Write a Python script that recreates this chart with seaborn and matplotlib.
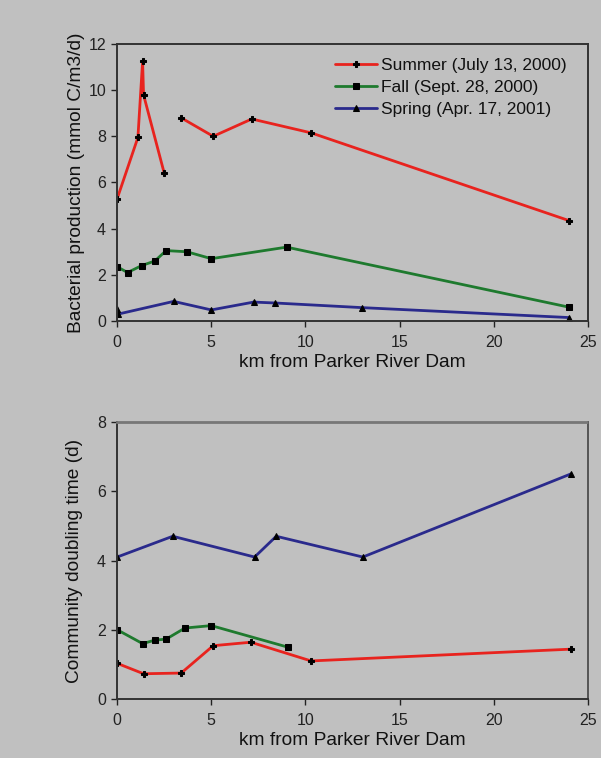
import matplotlib
matplotlib.use("Agg")
import matplotlib.pyplot as plt
import seaborn as sns
import pandas as pd

sns.set_theme(style="ticks")
plt.rcParams['font.family'] = ['Liberation Sans', 'DejaVu Sans']

# ---- Top panel: bacterial production ----
summer_km_a = [0, 1.1, 1.35, 1.4, 2.5]
summer_bp_a = [5.3, 7.95, 11.25, 9.8, 6.4]
summer_km_b = [3.4, 5.1, 7.15, 10.3, 24.0]
summer_bp_b = [8.8, 8.0, 8.75, 8.15, 4.35]

fall_km = [0, 0.55, 1.3, 2.0, 2.6, 3.7, 5.0, 9.0, 24.0]
fall_bp = [2.35, 2.1, 2.4, 2.6, 3.05, 3.0, 2.7, 3.2, 0.6]

spring_km = [0, 0.05, 3.0, 5.0, 7.25, 8.4, 13.0, 24.0]
spring_bp = [0.5, 0.3, 0.85, 0.48, 0.82, 0.78, 0.58, 0.15]

# ---- Bottom panel: community doubling time ----
spring_km2 = [0, 2.95, 7.3, 8.45, 13.05, 24.1]
spring_dt = [4.1, 4.7, 4.1, 4.7, 4.1, 6.5]
fall_km2 = [0, 1.35, 2.0, 2.6, 3.6, 5.0, 9.05]
fall_dt = [2.0, 1.6, 1.7, 1.73, 2.05, 2.12, 1.5]
summer_km2 = [0, 1.4, 3.4, 5.1, 7.1, 10.3, 24.1]
summer_dt = [1.03, 0.73, 0.75, 1.54, 1.64, 1.1, 1.44]

labels = ["Summer (July 13, 2000)", "Fall (Sept. 28, 2000)", "Spring (Apr. 17, 2001)"]
colors = {"summer": "#e8231e", "fall": "#1e7a2e", "spring": "#2a2a8c"}
markers = {"summer": "P", "fall": "s", "spring": "^"}
msize = {"summer": 4, "fall": 4.5, "spring": 4}

BG = "#c0c0c0"
fig = plt.figure(figsize=(6.01, 7.58), dpi=100, facecolor=BG)
ax1 = fig.add_axes([0.195, 0.5765, 0.783, 0.3655])
ax2 = fig.add_axes([0.195, 0.0778, 0.783, 0.3655])


def draw(ax, km, val, key, label=None):
    df = pd.DataFrame({"km": km, "v": val})
    sns.lineplot(data=df, x="km", y="v", ax=ax, sort=False, estimator=None,
                 color=colors[key], lw=2, marker=markers[key], ms=msize[key],
                 mfc="black", mec="black", label=label)


draw(ax1, summer_km_a, summer_bp_a, "summer", labels[0])
draw(ax1, summer_km_b, summer_bp_b, "summer")
draw(ax1, fall_km, fall_bp, "fall", labels[1])
draw(ax1, spring_km, spring_bp, "spring", labels[2])

draw(ax2, spring_km2, spring_dt, "spring")
draw(ax2, fall_km2, fall_dt, "fall")
draw(ax2, summer_km2, summer_dt, "summer")

for ax in (ax1, ax2):
    ax.set_facecolor(BG)
    ax.set_xlim(0, 25)
    ax.set_xticks([0, 5, 10, 15, 20, 25])
    ax.tick_params(axis="both", direction="out", length=4, width=1,
                   labelsize=11.5, colors="#222222")
    ax.tick_params(axis="x", pad=6)
    ax.tick_params(axis="y", pad=4)
    for s in ax.spines.values():
        s.set_color("#333333")
        s.set_linewidth(1.4)
    ax.set_xlabel("km from Parker River Dam", fontsize=13.8, color="#111111", labelpad=3)

ax1.set_ylim(0, 12)
ax1.set_yticks([0, 2, 4, 6, 8, 10, 12])
ax1.set_ylabel("Bacterial production (mmol C/m3/d)", fontsize=13.8, color="#111111")
ax1.yaxis.set_label_coords(-0.069, 0.5)

ax2.set_ylim(0, 8)
ax2.set_yticks([0, 2, 4, 6, 8])
ax2.set_ylabel("Community doubling time (d)", fontsize=13.8, color="#111111")
ax2.yaxis.set_label_coords(-0.073, 0.5)
ax2.spines["top"].set_color("#777777")
ax2.spines["top"].set_linestyle((0, (1, 1)))
ax2.spines["top"].set_linewidth(2)
ax2.spines["right"].set_color("#555555")

leg = ax1.legend(loc="upper right", frameon=False, fontsize=12.5,
                 handlelength=2.4, handletextpad=0.25, labelspacing=0.4,
                 borderaxespad=0.4, bbox_to_anchor=(0.985, 1.0))
for t in leg.get_texts():
    t.set_color("#111111")

fig.savefig("out.png", dpi=100, facecolor=BG)
